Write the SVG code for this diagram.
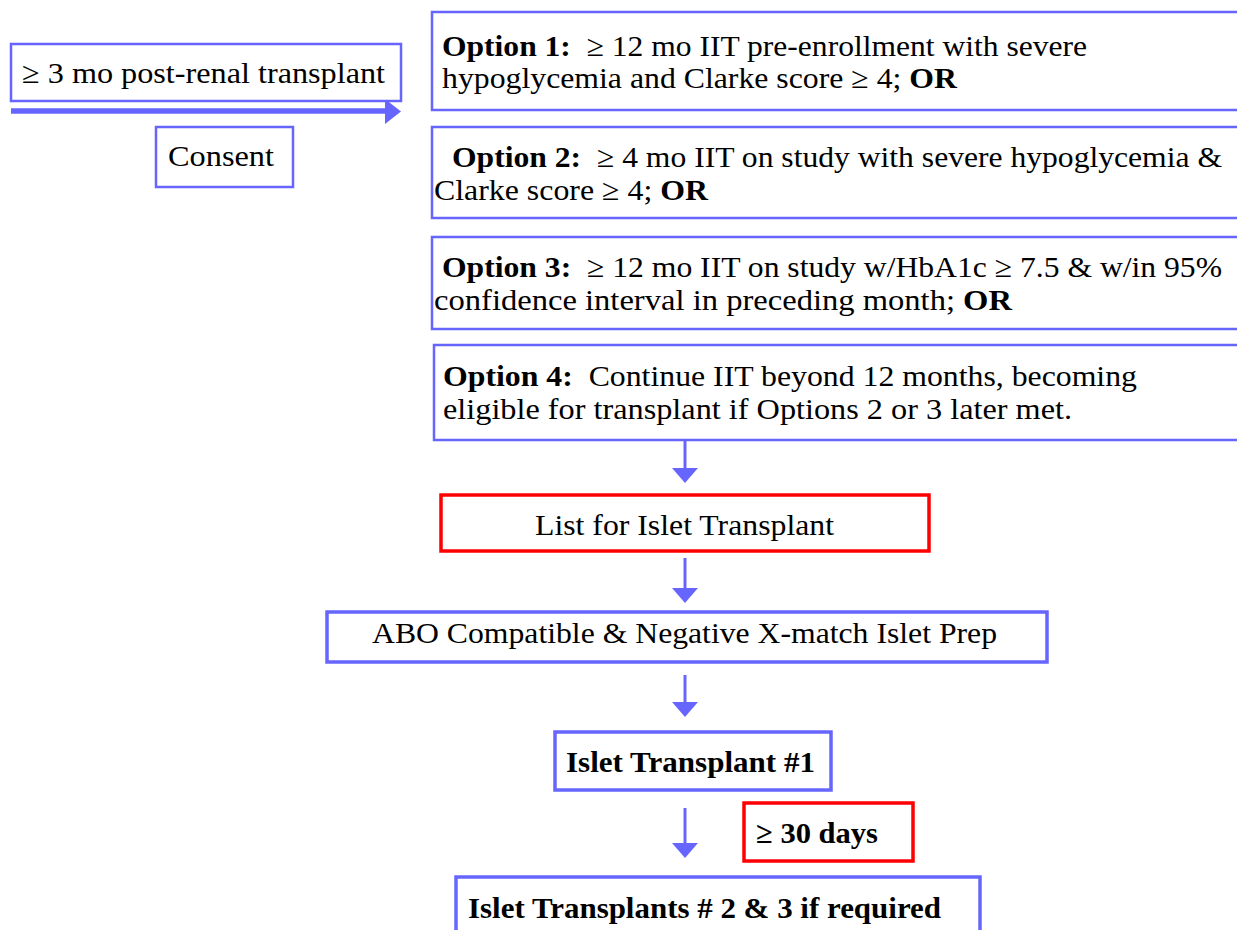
<svg xmlns="http://www.w3.org/2000/svg" width="1237" height="930" viewBox="0 0 1237 930">
<style>
.bx{fill:#fff;stroke:#6666FF;stroke-width:2.5}
.bx3{fill:#fff;stroke:#6666FF;stroke-width:3.5}
.rd{fill:#fff;stroke:#FF0000;stroke-width:3.5}
.t{font-family:"Liberation Serif","Times New Roman",serif;font-size:30px;fill:#000}
.b{font-weight:bold}
.stem{stroke:#6666FF;stroke-width:3;fill:none}
.head{fill:#6666FF}
</style>
<rect width="1237" height="930" fill="#fff"/>
<g id="connectors">
  <line x1="11" y1="111" x2="387" y2="111" stroke="#6666FF" stroke-width="5.5"/>
  <polygon class="head" points="385,99 401,111.5 385,124"/>
  <line class="stem" x1="685" y1="441" x2="685" y2="469"/>
  <polygon class="head" points="672,468 698,468 685,483"/>
  <line class="stem" x1="685" y1="558" x2="685" y2="589"/>
  <polygon class="head" points="672,588 698,588 685,603"/>
  <line class="stem" x1="685" y1="675" x2="685" y2="703"/>
  <polygon class="head" points="672,702 698,702 685,717"/>
  <line class="stem" x1="685" y1="808" x2="685" y2="844"/>
  <polygon class="head" points="672,843 698,843 685,858"/>
</g>
<g id="n-postrenal">
  <rect class="bx" x="11" y="44" width="390" height="57"/>
  <text class="t" x="22" y="83" textLength="363" lengthAdjust="spacingAndGlyphs">≥ 3 mo post-renal transplant</text>
</g>
<g id="n-consent">
  <rect class="bx" x="156" y="127" width="137" height="60"/>
  <text class="t" x="168" y="166" textLength="106" lengthAdjust="spacingAndGlyphs">Consent</text>
</g>
<g id="n-option1">
  <rect class="bx" x="432" y="12" width="820" height="98"/>
  <text class="t" x="442" y="56" textLength="645" lengthAdjust="spacingAndGlyphs"><tspan class="b">Option 1:</tspan>&#160; ≥ 12 mo IIT pre-enrollment with severe</text>
  <text class="t" x="442" y="88" textLength="515" lengthAdjust="spacingAndGlyphs">hypoglycemia and Clarke score ≥ 4; <tspan class="b">OR</tspan></text>
</g>
<g id="n-option2">
  <rect class="bx" x="432" y="127" width="820" height="91"/>
  <text class="t" x="452" y="167" textLength="770" lengthAdjust="spacingAndGlyphs"><tspan class="b">Option 2:</tspan>&#160; ≥ 4 mo IIT on study with severe hypoglycemia &amp;</text>
  <text class="t" x="434" y="200" textLength="274" lengthAdjust="spacingAndGlyphs">Clarke score ≥ 4; <tspan class="b">OR</tspan></text>
</g>
<g id="n-option3">
  <rect class="bx" x="432" y="237" width="820" height="92"/>
  <text class="t" x="442" y="277" textLength="780" lengthAdjust="spacingAndGlyphs"><tspan class="b">Option 3:</tspan>&#160; ≥ 12 mo IIT on study w/HbA1c ≥ 7.5 &amp; w/in 95%</text>
  <text class="t" x="434" y="310" textLength="578" lengthAdjust="spacingAndGlyphs">confidence interval in preceding month; <tspan class="b">OR</tspan></text>
</g>
<g id="n-option4">
  <rect class="bx" x="434" y="345" width="820" height="95"/>
  <text class="t" x="443" y="386" textLength="694" lengthAdjust="spacingAndGlyphs"><tspan class="b">Option 4:</tspan>&#160; Continue IIT beyond 12 months, becoming</text>
  <text class="t" x="443" y="419" textLength="629" lengthAdjust="spacingAndGlyphs">eligible for transplant if Options 2 or 3 later met.</text>
</g>
<g id="n-list">
  <rect class="rd" x="441" y="495" width="488" height="56"/>
  <text class="t" x="535" y="535" textLength="299" lengthAdjust="spacingAndGlyphs">List for Islet Transplant</text>
</g>
<g id="n-abo">
  <rect class="bx3" x="327" y="612" width="720" height="50"/>
  <text class="t" x="372" y="643" textLength="625" lengthAdjust="spacingAndGlyphs">ABO Compatible &amp; Negative X-match Islet Prep</text>
</g>
<g id="n-it1">
  <rect class="bx3" x="555" y="732" width="276" height="58"/>
  <text class="t b" x="566" y="772" textLength="249" lengthAdjust="spacingAndGlyphs">Islet Transplant #1</text>
</g>
<g id="n-30days">
  <rect class="rd" x="744" y="803" width="169" height="58"/>
  <text class="t b" x="756" y="843" textLength="122" lengthAdjust="spacingAndGlyphs">≥ 30 days</text>
</g>
<g id="n-it23">
  <rect class="bx3" x="456" y="877" width="524" height="70"/>
  <text class="t b" x="468" y="918" textLength="473" lengthAdjust="spacingAndGlyphs">Islet Transplants # 2 &amp; 3 if required</text>
</g>
</svg>
